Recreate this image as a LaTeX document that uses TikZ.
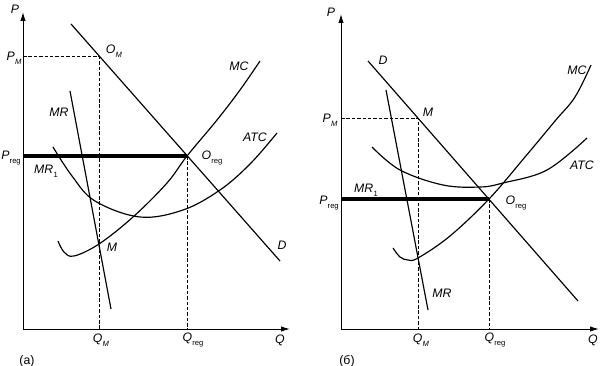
\documentclass[tikz,border=0pt]{standalone}
\usepackage{fontspec}
\setmainfont{Liberation Sans}
\usetikzlibrary{arrows.meta}
\newcommand{\lab}[2]{\textit{#1}\kern0.2pt\raisebox{-0.55ex}{\fontsize{6.5}{7}\selectfont #2}}
\tikzset{
  axis/.style={line width=0.85pt,-{Latex[length=2.7mm,width=1.6mm]}},
  curve/.style={line width=1pt},
  guide/.style={line width=0.5pt,dash pattern=on 3pt off 1.6pt},
  preg/.style={line width=2.6pt},
  lbl/.style={font=\fontsize{10.5}{12}\selectfont\itshape,inner sep=0pt},
  tag/.style={font=\fontsize{10.5}{12}\selectfont,inner sep=0pt}
}
\begin{document}
\begin{tikzpicture}[x=0.3mm,y=-0.3mm]
\useasboundingbox (0,0) rectangle (601,366);
% (a) left panel
\begin{scope}
\coordinate (oA) at (23,329);
\coordinate (Om) at (99,56.5);
\coordinate (OrA) at (187,156);
\coordinate (MA) at (99,244);
\draw[axis] (oA) -- (23,12);
\draw[axis] (oA) -- (290,329);
\draw[guide] (23,56.5) -- (Om) -- (99,329);
\draw[guide] (OrA) -- (187,329);
\draw[preg] (23,156) -- (OrA);
\draw[curve] (71,24) -- (280,261);
\draw[curve] (70,91) -- (111,309);
\draw[curve] plot[smooth,tension=0.6] coordinates {(58,241) (64,252) (74,256) (MA) (133,217) (167,183) (OrA) (217,120) (240,90) (260,61)};
\draw[curve] plot[smooth,tension=0.6] coordinates {(53,147) (72,176) (95,201) (140,217) (183,210) (220,190) (250,164) (277,133)};
\node[lbl] (pA) at (15,9) {P};
\node[lbl] (pmA) at (14,58) {\lab{P}{M}};
\node[lbl] (omA) at (114,51) {\lab{O}{M}};
\node[lbl] (mcA) at (239,66) {MC};
\node[lbl] (mrA) at (59,112) {MR};
\node[lbl] (atcA) at (255,137) {ATC};
\node[lbl] (prA) at (11,158) {\lab{P}{\upshape reg}};
\node[lbl] (orA) at (212,158) {\lab{O}{\upshape reg}};
\node[lbl] (mr1A) at (46,171) {\lab{MR}{\upshape 1}};
\node[lbl] (mA) at (112,247) {M};
\node[lbl] (dA) at (282,245) {D};
\node[lbl] (qmA) at (101,340) {\lab{Q}{M}};
\node[lbl] (qrA) at (193,340) {\lab{Q}{\upshape reg}};
\node[lbl] (qA) at (280,340) {Q};
\node[tag] (capA) at (27,361) {(a)};
\end{scope}
% (б) right panel
\begin{scope}
\coordinate (oB) at (341,329);
\coordinate (MB) at (418,118);
\coordinate (OrB) at (489,199);
\coordinate (mB) at (418,258);
\draw[axis] (oB) -- (341,14);
\draw[axis] (oB) -- (599,329);
\draw[guide] (341,118) -- (MB) -- (418,329);
\draw[guide] (OrB) -- (489,329);
\draw[preg] (341,199) -- (OrB);
\draw[curve] (368,61) -- (578,301);
\draw[curve] (386,90) -- (428,310);
\draw[curve] plot[smooth,tension=0.6] coordinates {(393,248) (400,257) (408,260) (mB) (450,236) (OrB) (525,157) (555,121) (575,97) (591,65)};
\draw[curve] plot[smooth,tension=0.6] coordinates {(372,147) (400,170) (443,185) (480,187) (503,183) (547,170) (587,138)};
\node[lbl] (pB) at (331,12) {P};
\node[lbl] (dB) at (383,60) {D};
\node[lbl] (mcB) at (577,70) {MC};
\node[lbl] (mlB) at (428,112) {M};
\node[lbl] (pmB) at (330,120) {\lab{P}{M}};
\node[lbl] (atcB) at (582,165) {ATC};
\node[lbl] (mr1B) at (366,190) {\lab{MR}{\upshape 1}};
\node[lbl] (prB) at (329,203) {\lab{P}{\upshape reg}};
\node[lbl] (orB) at (516,203) {\lab{O}{\upshape reg}};
\node[lbl] (mrB) at (442,293) {MR};
\node[lbl] (qmB) at (421,340) {\lab{Q}{M}};
\node[lbl] (qrB) at (495,340) {\lab{Q}{\upshape reg}};
\node[lbl] (qB) at (593,340) {Q};
\node[tag] (capB) at (347,361) {(б)};
\end{scope}
\end{tikzpicture}
\end{document}
